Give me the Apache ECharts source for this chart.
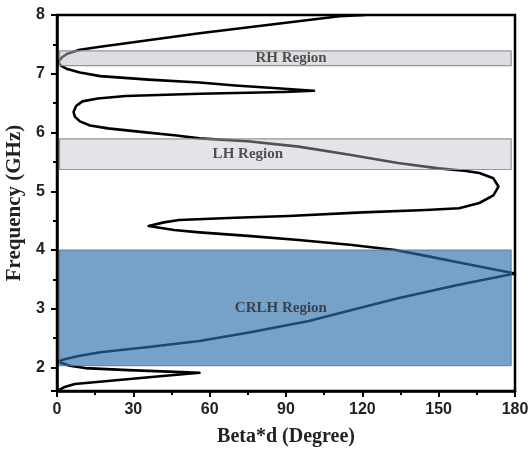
<!DOCTYPE html>
<html><head><meta charset="utf-8">
<script src="https://cdn.jsdelivr.net/npm/echarts@6/dist/echarts.min.js"></script>
<style>html,body{margin:0;padding:0;background:#fff}#c{width:531px;height:453px}</style>
</head><body><div id="c"></div>
<script>
// Dispersion curve, in drawing order (Beta*d in degrees, frequency in GHz)
const curveBeta = [
  0.2, 3, 7, 20, 35, 56, 44, 28, 11, 5, 1.5, 0.3,
  3, 8, 17, 36, 56, 76, 99, 117, 134, 157, 180,
  160, 145, 133, 115, 95, 75, 56, 46, 36,
  42, 48, 70, 91, 120, 145, 158, 166, 171.5, 173.5, 171.5, 166, 160,
  150, 134, 115, 95, 75, 56, 47, 33, 20, 13, 9, 7, 6.5, 7.5, 10, 16, 27, 56, 89, 101,
  88, 70, 56, 36, 17, 9, 4, 1.5, 0.5, 2, 4, 9, 17, 56, 111, 121
];
const curveFreq = [
  1.60, 1.67, 1.72, 1.77, 1.83, 1.91, 1.93, 1.955, 1.99, 2.03, 2.08, 2.10,
  2.14, 2.19, 2.26, 2.35, 2.45, 2.60, 2.79, 2.99, 3.18, 3.40, 3.60,
  3.77, 3.90, 4.00, 4.09, 4.17, 4.24, 4.30, 4.34, 4.41,
  4.47, 4.51, 4.55, 4.58, 4.64, 4.68, 4.71, 4.80, 4.93, 5.08, 5.22, 5.31, 5.35,
  5.39, 5.48, 5.62, 5.76, 5.85, 5.90, 5.95, 6.01, 6.07, 6.12, 6.19, 6.27, 6.35, 6.45, 6.53, 6.58, 6.62, 6.66, 6.69, 6.71,
  6.75, 6.80, 6.85, 6.90, 6.96, 7.02, 7.08, 7.14, 7.20, 7.28, 7.34, 7.41, 7.46, 7.69, 7.98, 8.00
];

// Highlighted regions
const regionNames = ['CRLH Region', 'LH Region', 'RH Region'];
const regionLow = [2.03, 5.37, 7.14];
const regionHigh = [4.00, 5.89, 7.39];
const regionBetaFrom = [1, 1, 1];
const regionBetaTo = [178.5, 178.5, 178.5];
const regionLabelBeta = [88, 75, 92];
const regionLabelFreq = [3.01, 5.63, 7.27];

// Axis ticks
const xTicks = [0, 30, 60, 90, 120, 150, 180];
const yTicks = [2, 3, 4, 5, 6, 7, 8];

const curveData = curveBeta.map((b, i) => [b, curveFreq[i]]);
const regionStyles = [
  { color: 'rgba(45,110,170,0.65)', borderColor: 'rgba(95,115,140,0.9)', borderWidth: 1 },
  { color: 'rgba(185,190,198,0.42)', borderColor: 'rgba(140,140,140,0.9)', borderWidth: 1.2 },
  { color: 'rgba(185,190,198,0.50)', borderColor: 'rgba(140,140,140,0.9)', borderWidth: 1.2 }
];
const areaData = regionNames.map((n, i) => [
  { name: n, xAxis: regionBetaFrom[i], yAxis: regionLow[i], itemStyle: regionStyles[i] },
  { xAxis: regionBetaTo[i], yAxis: regionHigh[i] }
]);
const labelData = regionNames.map((n, i) => ({ name: n, value: [regionLabelBeta[i], regionLabelFreq[i]] }));

const tickLabel = { fontFamily: 'Liberation Sans', fontWeight: 'bold', fontSize: 16, color: '#222' };
const nameStyle = { fontFamily: 'Liberation Serif', fontWeight: 'bold', fontSize: 20, color: '#222' };

const chart = echarts.init(document.getElementById('c'), null, { renderer: 'canvas' });
chart.setOption({
  backgroundColor: '#fff',
  animation: false,
  grid: { left: 57, right: 16, top: 15, bottom: 62, containLabel: false, outerBoundsMode: 'none',
    show: true, borderColor: '#000', borderWidth: 2.5, backgroundColor: 'transparent' },
  xAxis: {
    type: 'value', min: 0, max: 180, interval: 30,
    name: 'Beta*d (Degree)', nameLocation: 'middle', nameGap: 36, nameTextStyle: nameStyle,
    axisLine: { show: true, lineStyle: { color: '#000', width: 2.5 } },
    axisTick: { show: true, length: 6, lineStyle: { color: '#000', width: 2 } },
    minorTick: { show: true, splitNumber: 2, length: 4, lineStyle: { color: '#000', width: 2 } },
    splitLine: { show: false },
    axisLabel: Object.assign({ margin: 11, formatter: v => xTicks.includes(v) ? String(v) : '' }, tickLabel)
  },
  yAxis: {
    type: 'value', min: 1.6, max: 8, splitNumber: 6,
    name: 'Frequency (GHz)', nameLocation: 'middle', nameGap: 30, nameTextStyle: Object.assign({}, nameStyle, { fontSize: 21 }),
    axisLine: { show: true, lineStyle: { color: '#000', width: 2.5 } },
    axisTick: { show: true, length: 6, lineStyle: { color: '#000', width: 2 } },
    minorTick: { show: true, splitNumber: 2, length: 4, lineStyle: { color: '#000', width: 2 } },
    splitLine: { show: false },
    axisLabel: Object.assign({ margin: 12, showMinLabel: false, formatter: v => yTicks.includes(v) ? String(v) : '' }, tickLabel)
  },
  series: [
    {
      type: 'line', name: 'curve', data: curveData, z: 2,
      showSymbol: false, symbol: 'none', smooth: false,
      lineStyle: { color: '#000', width: 2.6, join: 'round', cap: 'round' }
    },
    {
      type: 'scatter', name: 'regions', data: labelData, z: 5,
      symbolSize: 1, itemStyle: { color: 'rgba(0,0,0,0)' },
      label: { show: true, position: 'inside', formatter: p => p.name,
        fontFamily: 'Liberation Serif', fontWeight: 'bold', fontSize: 15, color: '#2a2a2a' },
      markArea: { z: 3, silent: true, data: areaData, label: { show: false } }
    }
  ]
});
</script>
</body></html>
